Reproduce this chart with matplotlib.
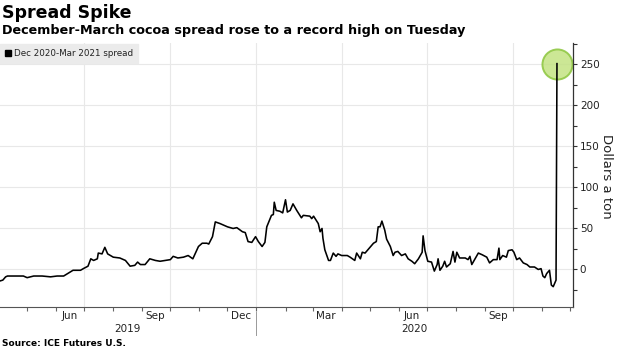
import matplotlib
matplotlib.use("Agg")
import matplotlib.pyplot as plt
import matplotlib.dates as mdates
import matplotlib.transforms as mtransforms
from matplotlib.lines import Line2D
import pandas as pd

# ---------------- data ----------------
dates = [
    "2019-04-02", "2019-04-05", "2019-04-08", "2019-04-10", "2019-04-18", "2019-04-27",
    "2019-05-01", "2019-05-08", "2019-05-17", "2019-05-26", "2019-06-02", "2019-06-09",
    "2019-06-16", "2019-06-19", "2019-06-27", "2019-06-30", "2019-07-05", "2019-07-08",
    "2019-07-11", "2019-07-15", "2019-07-16", "2019-07-20", "2019-07-23", "2019-07-26",
    "2019-08-01", "2019-08-08", "2019-08-14", "2019-08-19", "2019-08-24", "2019-08-27",
    "2019-08-30", "2019-09-04", "2019-09-09", "2019-09-15", "2019-09-20", "2019-10-01",
    "2019-10-04", "2019-10-09", "2019-10-15", "2019-10-20", "2019-10-25", "2019-10-31",
    "2019-11-04", "2019-11-09", "2019-11-11", "2019-11-15", "2019-11-18", "2019-11-23",
    "2019-12-01", "2019-12-07", "2019-12-11", "2019-12-17", "2019-12-20", "2019-12-23",
    "2019-12-27", "2019-12-31",
    "2020-01-03", "2020-01-07", "2020-01-10", "2020-01-12", "2020-01-17", "2020-01-19",
    "2020-01-20", "2020-01-22", "2020-01-26", "2020-01-29", "2020-02-01", "2020-02-03",
    "2020-02-06", "2020-02-09", "2020-02-13", "2020-02-18", "2020-02-20", "2020-02-27",
    "2020-02-29", "2020-03-02", "2020-03-07", "2020-03-09", "2020-03-11", "2020-03-12",
    "2020-03-14", "2020-03-18", "2020-03-20", "2020-03-23", "2020-03-26", "2020-03-28",
    "2020-04-01", "2020-04-07", "2020-04-10", "2020-04-15", "2020-04-17", "2020-04-21",
    "2020-04-23", "2020-04-26", "2020-04-29", "2020-05-05", "2020-05-08", "2020-05-10",
    "2020-05-12", "2020-05-14", "2020-05-17", "2020-05-19", "2020-05-23", "2020-05-26",
    "2020-05-28", "2020-05-31", "2020-06-04", "2020-06-08", "2020-06-11", "2020-06-15",
    "2020-06-18", "2020-06-22", "2020-06-26", "2020-06-27", "2020-06-29", "2020-07-02",
    "2020-07-06", "2020-07-09", "2020-07-12", "2020-07-13", "2020-07-15", "2020-07-18",
    "2020-07-20", "2020-07-22", "2020-07-26", "2020-07-29", "2020-07-31", "2020-08-02",
    "2020-08-05", "2020-08-11", "2020-08-14", "2020-08-16", "2020-08-18", "2020-08-21",
    "2020-08-25", "2020-08-29", "2020-09-03", "2020-09-06", "2020-09-10", "2020-09-14",
    "2020-09-16", "2020-09-17", "2020-09-20", "2020-09-24", "2020-09-26", "2020-09-30",
    "2020-10-02", "2020-10-05", "2020-10-08", "2020-10-12", "2020-10-16", "2020-10-19",
    "2020-10-24", "2020-10-28", "2020-10-31", "2020-11-02", "2020-11-04", "2020-11-06",
    "2020-11-09", "2020-11-11", "2020-11-13", "2020-11-16", "2020-11-17",
]
spread = [
    -14, -13, -9, -8, -8, -8,
    -10, -8, -8, -9, -8, -8,
    -3, -1, -1, 1, 4, 13,
    11, 13, 20, 19, 27, 19,
    15, 14, 11, 4, 5, 9,
    6, 6, 13, 11, 10, 12,
    16, 14, 15, 17, 13, 28,
    32, 32, 31, 40, 58, 56,
    52, 50, 51, 46, 45, 34,
    33, 40,
    34, 28, 33, 52, 66, 67,
    82, 72, 71, 69, 85, 70,
    72, 80, 72, 63, 66, 65,
    62, 65, 56, 46, 50, 38,
    24, 11, 11, 20, 16, 19,
    17, 17, 15, 11, 20, 13,
    21, 20, 24, 32, 34, 52,
    52, 59, 48, 37, 28, 17,
    21, 22, 17, 19, 13, 10,
    7, 13, 21, 41, 23, 10,
    9, -2, 6, 13, -1, 4,
    10, 3, 7, 22, 9, 21,
    14, 14, 12, 16, 6, 12,
    20, 18, 15, 8, 12, 12,
    26, 12, 17, 15, 23, 24,
    21, 12, 14, 8, 6, 3,
    3, 0, 1, -8, -10, -5,
    -1, -19, -21, -13, 251,
]
series_label = "Dec 2020-Mar 2021 spread"
y_ticks = [0, 50, 100, 150, 200, 250]
year_labels = ["2019", "2020"]
year_label_dates = ["2019-08-16", "2020-06-18"]

title = "Spread Spike"
subtitle = "December-March cocoa spread rose to a record high on Tuesday"
source = "Source: ICE Futures U.S."
y_label = "Dollars a ton"

# ---------------- figure ----------------
x = pd.to_datetime(dates)
fig = plt.figure(figsize=(6.2, 3.48), dpi=100)
fig.patch.set_facecolor("white")
ax = fig.add_axes([0.0, 0.118, 0.924, 0.758])

ax.plot(x, spread, color="black", lw=1.15, zorder=3, label=series_label)
ax.scatter([x[-1]], [spread[-1]], s=470, facecolor="#c3e383", edgecolor="#8cc63e",
           linewidth=1.4, alpha=0.85, zorder=2, clip_on=False)

ax.set_xlim(pd.Timestamp("2019-04-02"), pd.Timestamp("2020-12-04"))
ax.set_ylim(-45.7, 276)

# y axis on the right
ax.yaxis.tick_right()
ax.set_yticks(y_ticks)
ax.set_yticks([-25, 25, 75, 125, 175, 225, 275], minor=True)
ax.tick_params(axis="y", which="both", direction="out", length=3, width=0.8,
               color="#333333", labelsize=7.5, pad=2, labelcolor="#222222")

# x axis: month labels centred in month, ticks at month starts
ax.xaxis.set_major_locator(mdates.MonthLocator(bymonth=[3, 6, 9, 12], bymonthday=15))
ax.xaxis.set_major_formatter(mdates.DateFormatter("%b"))
ax.xaxis.set_minor_locator(mdates.MonthLocator())
ax.tick_params(axis="x", which="major", length=0, labelsize=7.5, pad=3, labelcolor="#222222")
ax.tick_params(axis="x", which="minor", direction="out", length=3, width=0.8, color="#666666")

# grid
ax.yaxis.grid(True, which="major", color="#e8e8e8", lw=0.8, zorder=0)
for q in pd.date_range("2019-07-01", "2020-10-01", freq="QS"):
    ax.axvline(q, color="#e8e8e8", lw=0.8, zorder=0)

for s in ["left", "top"]:
    ax.spines[s].set_visible(False)
ax.spines["bottom"].set_color("#555555")
ax.spines["bottom"].set_linewidth(0.8)
ax.spines["right"].set_color("#333333")
ax.spines["right"].set_linewidth(0.9)

# year labels and separator
trans = mtransforms.blended_transform_factory(ax.transData, ax.transAxes)
for lab, d in zip(year_labels, year_label_dates):
    ax.text(pd.Timestamp(d), -0.083, lab, transform=trans, ha="center", va="center",
            fontsize=7.5, color="#222222")
ax.plot([pd.Timestamp("2020-01-01")] * 2, [-0.02, -0.108], transform=trans,
        color="#999999", lw=0.7, clip_on=False)

# legend
handle = Line2D([], [], marker="s", color="black", linestyle="none", markersize=4)
leg = ax.legend([handle], [series_label], loc="upper left", bbox_to_anchor=(0.0, 0.997),
                borderaxespad=0, frameon=True, fancybox=False, fontsize=6.3,
                handlelength=0.7, handletextpad=0.3, borderpad=0.55)
leg.get_frame().set_facecolor("#ebebeb")
leg.get_frame().set_edgecolor("#ebebeb")
leg.get_frame().set_alpha(1)
for t in leg.get_texts():
    t.set_color("#222222")

# texts
fig.text(0.003, 1 - 18.3 / 348, title, fontsize=12.5, fontweight="bold", va="baseline", ha="left")
fig.text(0.003, 1 - 34.3 / 348, subtitle, fontsize=9.2, fontweight="bold", va="baseline", ha="left")
fig.text(0.003, 1 - 345.5 / 348, source, fontsize=6.5, fontweight="bold", va="baseline", ha="left")
fig.text(0.979, 1 - 176 / 348, y_label, rotation=270, fontsize=9.5, ha="center", va="center",
         color="#222222")

fig.savefig("out.png", dpi=100)
